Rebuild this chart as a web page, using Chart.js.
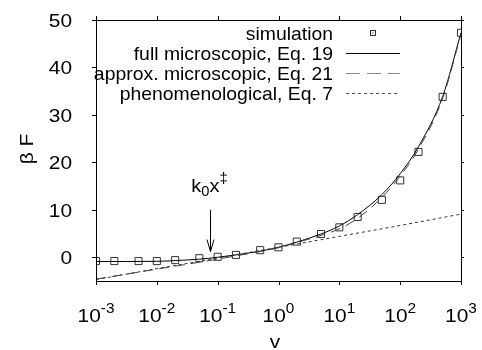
<!DOCTYPE html>
<html>
<head>
<meta charset="utf-8">
<script src="https://cdn.jsdelivr.net/npm/chart.js@4.4.1/dist/chart.umd.min.js"></script>
<style>
  html, body { margin: 0; padding: 0; background: #fff; }
  #wrap { width: 482px; height: 350px; }
</style>
</head>
<body>
<div id="wrap"><canvas id="grafico"></canvas></div>
<script>
// dados
const simV = [0.001, 0.002, 0.005, 0.01, 0.02, 0.05, 0.1, 0.2, 0.5, 1, 2, 5, 10, 20, 50, 100, 200, 500, 1000];
const simF = [-0.8, -0.8, -0.8, -0.8, -0.6, -0.2, 0.1, 0.5, 1.5, 2.1, 3.3, 4.9, 6.3, 8.5, 12.1, 16.2, 22.2, 33.8, 47.3];

const fullV = [0.001, 0.01, 0.02, 0.05, 0.1, 0.2, 0.5, 1, 2, 5, 10, 20, 50, 100, 200, 500, 1000];
const fullF = [-0.9, -0.85, -0.7, -0.4, 0.0, 0.5, 1.3, 2.1, 3.2, 4.9, 6.6, 9.0, 13.2, 17.6, 23.3, 33.9, 47.3];

const approxV = [0.001, 0.01, 0.1, 0.2, 0.5, 1, 2, 5, 10, 20, 50, 100, 200, 500, 1000];
const approxF = [-4.6, -2.5, -0.4, 0.3, 1.2, 2.0, 3.1, 4.6, 6.0, 8.2, 12.6, 17.1, 22.8, 33.5, 47.0];

const phenoV = [0.001, 0.01, 0.1, 1, 10, 100, 1000];
const phenoF = [-4.7, -2.4, -0.15, 2.1, 4.4, 6.7, 9.1];

const xTicks = [0.001, 0.01, 0.1, 1, 10, 100, 1000];
const xTickExp = ['-3', '-2', '-1', '0', '1', '2', '3'];
const yTicks = [0, 10, 20, 30, 40, 50];

const legendLabels = ['simulation', 'full microscopic, Eq. 19', 'approx. microscopic, Eq. 21', 'phenomenological, Eq. 7'];

// seta k0x
const setaV = 0.074;
const setaTopo = 10;
const setaPonta = 1.2;

const fonte = '"Liberation Sans", Arial, Helvetica, sans-serif';
let esticar = 1.1; // o texto original é um pouco mais largo

function pares(xs, ys) {
    return xs.map((x, i) => ({ x: x, y: ys[i] }));
}

// texto com estiramento horizontal
function texto(ctx, str, x, y, size, align) {
    ctx.save();
    ctx.font = size + 'px ' + fonte;
    const w = ctx.measureText(str).width * esticar;
    let x0 = x;
    if (align === 'right') x0 = x - w;
    if (align === 'center') x0 = x - w / 2;
    ctx.translate(x0, y);
    ctx.scale(esticar, 1);
    ctx.textAlign = 'left';
    ctx.textBaseline = 'alphabetic';
    ctx.fillText(str, 0, 0);
    ctx.restore();
    return w;
}

function larg(ctx, str, size) {
    ctx.save();
    ctx.font = size + 'px ' + fonte;
    const w = ctx.measureText(str).width * esticar;
    ctx.restore();
    return w;
}

const pluginMoldura = {
    id: 'moldura',
    afterDatasetsDraw(chart) {
        const ctx = chart.ctx;
        const a = chart.chartArea;
        const xs = chart.scales.x;
        const ys = chart.scales.y;
        ctx.save();
        ctx.strokeStyle = '#000';
        ctx.fillStyle = '#000';
        ctx.lineWidth = 1;

        // caixa
        ctx.strokeRect(Math.round(a.left) + 0.5, Math.round(a.top) + 0.5,
            Math.round(a.right - a.left), Math.round(a.bottom - a.top));

        // ticks para fora
        ctx.beginPath();
        xTicks.forEach(v => {
            const px = Math.round(xs.getPixelForValue(v)) + 0.5;
            ctx.moveTo(px, a.bottom); ctx.lineTo(px, a.bottom + 4);
            ctx.moveTo(px, a.top); ctx.lineTo(px, a.top - 4);
        });
        yTicks.forEach(v => {
            const py = Math.round(ys.getPixelForValue(v)) + 0.5;
            ctx.moveTo(a.left, py); ctx.lineTo(a.left - 4, py);
            ctx.moveTo(a.right, py); ctx.lineTo(a.right + 3, py);
        });
        ctx.stroke();

        esticar = 1.1;
        // rótulos y
        yTicks.forEach(v => {
            const py = ys.getPixelForValue(v);
            texto(ctx, String(v), 72, py + 6.7, 19, 'right');
        });

        // rótulos x com expoente
        xTicks.forEach((v, i) => {
            const px = xs.getPixelForValue(v);
            const wb = larg(ctx, '10', 19);
            const we = larg(ctx, xTickExp[i], 14);
            const x0 = px - (wb + we) / 2;
            texto(ctx, '10', x0, 322, 19, 'left');
            texto(ctx, xTickExp[i], x0 + wb, 313, 14, 'left');
        });

        // títulos dos eixos
        texto(ctx, 'v', 275, 348, 19, 'center');
        ctx.save();
        ctx.translate(33, 149);
        ctx.rotate(-Math.PI / 2);
        texto(ctx, '\u03B2 F', 0, 0, 19, 'center');
        ctx.restore();

        // seta
        const sx = Math.round(xs.getPixelForValue(setaV)) + 0.5;
        const sTop = ys.getPixelForValue(setaTopo);
        const sTip = ys.getPixelForValue(setaPonta);
        ctx.beginPath();
        ctx.moveTo(sx, sTop); ctx.lineTo(sx, sTip);
        ctx.moveTo(sx - 3.5, sTip - 12); ctx.lineTo(sx, sTip); ctx.lineTo(sx + 3.5, sTip - 12);
        ctx.stroke();

        // k0x‡
        esticar = 1.05;
        const wk = larg(ctx, 'k', 19);
        const w0 = larg(ctx, '0', 14);
        const wx = larg(ctx, 'x', 19);
        const wd = larg(ctx, '\u2021', 14);
        const tx = sx - (wk + w0 + wx + wd) / 2 - 1;
        const base = sTop - 18;
        texto(ctx, 'k', tx, base, 19, 'left');
        texto(ctx, '0', tx + wk, base + 4, 14, 'left');
        texto(ctx, 'x', tx + wk + w0, base, 19, 'left');
        texto(ctx, '\u2021', tx + wk + w0 + wx, base - 9, 14, 'left');

        // legenda
        esticar = 1.02;
        const lx = 333;
        const ly = [33, 53, 73, 93];
        legendLabels.forEach((s, i) => {
            texto(ctx, s, lx, ly[i] + 6.5, 19, 'right');
        });
        // amostras
        ctx.strokeStyle = '#333';
        ctx.strokeRect(370.5, 30.5, 5, 5);
        ctx.fillRect(372.5, 32.5, 1, 1);
        ctx.beginPath();
        ctx.strokeStyle = '#000';
        ctx.moveTo(346, 53.5); ctx.lineTo(400, 53.5);
        ctx.stroke();
        ctx.beginPath();
        ctx.strokeStyle = '#888';
        ctx.setLineDash([14, 7]);
        ctx.moveTo(346, 73.5); ctx.lineTo(400, 73.5);
        ctx.stroke();
        ctx.beginPath();
        ctx.strokeStyle = '#555';
        ctx.setLineDash([3, 3]);
        ctx.moveTo(346, 93.5); ctx.lineTo(400, 93.5);
        ctx.stroke();
        ctx.restore();
    }
};

const config = {
    type: 'line',
    data: {
        datasets: [
            {
                label: legendLabels[3],
                data: pares(phenoV, phenoF),
                borderColor: '#333',
                borderWidth: 1,
                borderDash: [3, 3],
                pointRadius: 0,
                tension: 0
            },
            {
                label: legendLabels[2],
                data: pares(approxV, approxF),
                borderColor: '#444',
                borderWidth: 1,
                borderDash: [10, 6],
                pointRadius: 0,
                cubicInterpolationMode: 'monotone'
            },
            {
                label: legendLabels[1],
                data: pares(fullV, fullF),
                borderColor: '#000',
                borderWidth: 1,
                pointRadius: 0,
                cubicInterpolationMode: 'monotone'
            },
            {
                label: legendLabels[0],
                data: pares(simV, simF),
                showLine: false,
                pointStyle: 'rect',
                pointRadius: 5,
                pointBorderWidth: 1,
                pointBorderColor: '#333',
                pointBackgroundColor: 'rgba(0,0,0,0)'
            }
        ]
    },
    options: {
        responsive: true,
        maintainAspectRatio: false,
        animation: false,
        layout: { padding: { left: 88, right: 21, top: 20, bottom: 61 } },
        plugins: {
            legend: { display: false },
            tooltip: { enabled: false }
        },
        scales: {
            x: {
                type: 'logarithmic',
                min: 0.001,
                max: 1000,
                grid: { display: false },
                border: { display: false },
                ticks: { display: false }
            },
            y: {
                min: -5,
                max: 50,
                grid: { display: false },
                border: { display: false },
                ticks: { display: false }
            }
        }
    },
    plugins: [pluginMoldura]
};

const grafico = new Chart(document.getElementById('grafico'), config);
</script>
</body>
</html>
